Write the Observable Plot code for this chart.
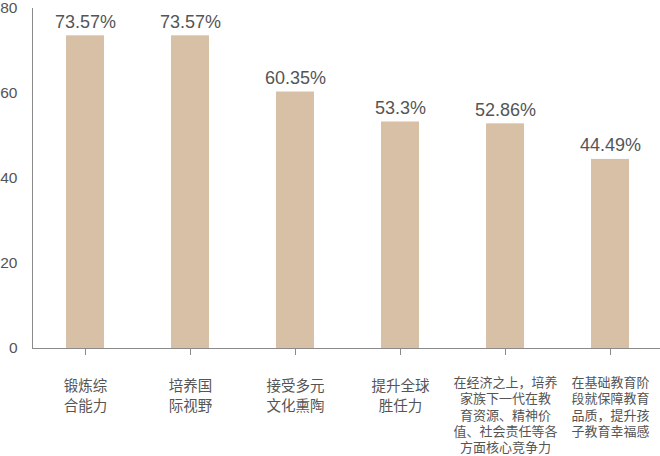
<!DOCTYPE html>
<html>
<head>
<meta charset="utf-8">
<script src="https://cdn.jsdelivr.net/npm/d3@7"></script>
<script src="https://cdn.jsdelivr.net/npm/@observablehq/plot@0.6"></script>
<style>
  html, body { margin: 0; padding: 0; background: #fff; }
  #chart svg { font-family: "Liberation Sans", "Noto Sans CJK SC", sans-serif; }
</style>
</head>
<body>
<div id="chart"></div>
<script>
const categories = [
  "锻炼综\n合能力",
  "培养国\n际视野",
  "接受多元\n文化熏陶",
  "提升全球\n胜任力",
  "在经济之上，培养\n家族下一代在教\n育资源、精神价\n值、社会责任等各\n方面核心竞争力",
  "在基础教育阶\n段就保障教育\n品质，提升孩\n子教育幸福感"
];
const values = [73.57, 73.57, 60.35, 53.3, 52.86, 44.49];
const yTicks = [0, 20, 40, 60, 80];

const data = categories.map((c, i) => ({cat: c, value: values[i]}));
const shortLabels = data.filter(d => d.cat.split("\n").length <= 2);
const longLabels = data.filter(d => d.cat.split("\n").length > 2);

const textColor = "#555";
const axisColor = "#8a8a8a";

const chart = Plot.plot({
  width: 660,
  height: 456,
  marginLeft: 32,
  marginRight: 0,
  marginTop: 8,
  marginBottom: 108,
  style: {fontFamily: '"Liberation Sans", "Noto Sans CJK SC", sans-serif', background: "#fff"},
  x: {domain: categories, range: [31, 663], paddingInner: 0.64, paddingOuter: 0.32, label: null},
  y: {domain: [0, 80], label: null},
  marks: [
    Plot.barY(data, {x: "cat", y: "value", fill: "#d8c0a6"}),
    Plot.frame({anchor: "left", stroke: axisColor}),
    Plot.ruleY([0], {stroke: axisColor}),
    Plot.axisY({ticks: yTicks, tickSize: 0, tickPadding: 15, fontSize: 15.5, fill: textColor, label: null}),
    Plot.axisX({tickSize: 7, tickFormat: () => "", stroke: axisColor, label: null}),
    Plot.text(data, {x: "cat", y: "value", text: d => `${d.value}%`, lineAnchor: "bottom", dy: -8, fontSize: 18, fill: textColor}),
    Plot.text(shortLabels, {x: "cat", frameAnchor: "bottom", text: "cat", lineAnchor: "top", dy: 28, fontSize: 14.5, lineHeight: 1.38, fill: textColor}),
    Plot.text(longLabels, {x: "cat", frameAnchor: "bottom", text: "cat", lineAnchor: "top", dy: 27, fontSize: 13, lineHeight: 1.25, fill: textColor})
  ]
});
document.getElementById("chart").appendChild(chart);
</script>
</body>
</html>
